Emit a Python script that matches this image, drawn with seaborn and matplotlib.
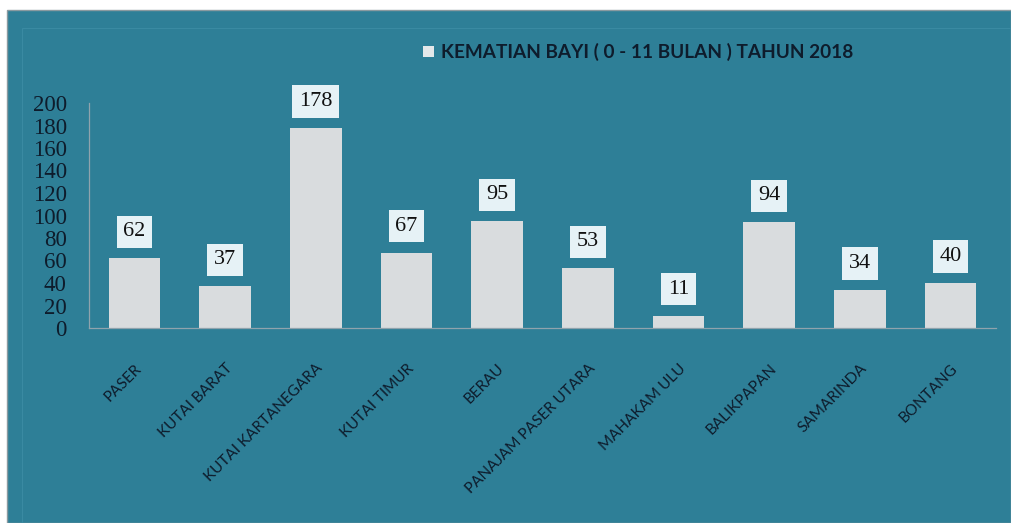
import seaborn as sns
import pandas as pd
import matplotlib.pyplot as plt
from matplotlib.patches import Patch, Rectangle

# data
kabupaten = ["PASER", "KUTAI BARAT", "KUTAI KARTANEGARA", "KUTAI TIMUR", "BERAU",
             "PANAJAM PASER UTARA", "MAHAKAM ULU", "BALIKPAPAN", "SAMARINDA", "BONTANG"]
kematian = [62, 37, 178, 67, 95, 53, 11, 94, 34, 40]
y_ticks = [0, 20, 40, 60, 80, 100, 120, 140, 160, 180, 200]
legend_label = "KEMATIAN BAYI ( 0 - 11 BULAN ) TAHUN 2018"

teal = "#2E7F97"
dark = "#0E1C2C"
bar_col = "#D9DCDE"
box_col = "#E6F2F6"
serif = ["Liberation Serif", "DejaVu Serif"]

sns.set_style("white")
plt.rcParams["font.family"] = ["Lato", "DejaVu Sans"]

df = pd.DataFrame({"kab": kabupaten, "n": kematian})

W, H = 1011, 523
fig = plt.figure(figsize=(W / 100, H / 100), dpi=100, facecolor="white")
# teal chart area with a thin border, kept behind the axes
fig.patches.append(Rectangle((7 / W, 0), 1 - 7 / W, 1 - 10 / H, transform=fig.transFigure,
                             facecolor=teal, edgecolor="#8a9aa0", linewidth=1, zorder=-5))
fig.patches.append(Rectangle((22 / W, -0.01), 1, 1 - 28 / H + 0.01, transform=fig.transFigure,
                             facecolor="none", edgecolor="#3A8AA2", linewidth=0.8, zorder=-4))

ax = fig.add_axes([89 / W, 1 - 328 / H, (996 - 89) / W, (328 - 103) / H])
ax.set_facecolor("none")

sns.barplot(data=df, x="kab", y="n", color=bar_col, width=0.57, saturation=1,
            edgecolor="none", ax=ax)

ax.set_ylim(0, 200)
ax.set_xlim(-0.5, 9.5)
ax.set_yticks(y_ticks)
ax.set_xlabel("")
ax.set_ylabel("")

ax.tick_params(axis="y", length=0, pad=16, labelsize=16.5, labelcolor=dark)
for t in ax.get_yticklabels():
    t.set_family(serif)

ax.tick_params(axis="x", length=0, pad=24, labelsize=11, labelcolor=dark)
for t in ax.get_xticklabels():
    t.set_rotation(45)
    t.set_ha("right")
    t.set_rotation_mode("anchor")

for side in ["top", "right"]:
    ax.spines[side].set_visible(False)
for side in ["left", "bottom"]:
    ax.spines[side].set_color("#8fa3ad")
    ax.spines[side].set_linewidth(0.9)

# value labels in light boxes above each bar
for i, v in enumerate(kematian):
    ax.annotate(str(v), xy=(i, v), xytext=(0, 19), textcoords="offset points",
                ha="center", va="center", fontsize=16, color="#111111", family=serif,
                bbox=dict(boxstyle="square,pad=0.3", facecolor=box_col, edgecolor="none"))

handle = Patch(facecolor="#E4E8EA", edgecolor="none")
fig.legend([handle], [legend_label], loc="center left",
           bbox_to_anchor=(406 / W, 1 - 52 / H), frameon=False,
           handlelength=0.55, handleheight=0.55, handletextpad=0.4,
           prop={"family": ["Lato", "DejaVu Sans"], "weight": "bold", "size": 13.7},
           labelcolor=dark)

fig.savefig("out.png", dpi=100, facecolor="white")
